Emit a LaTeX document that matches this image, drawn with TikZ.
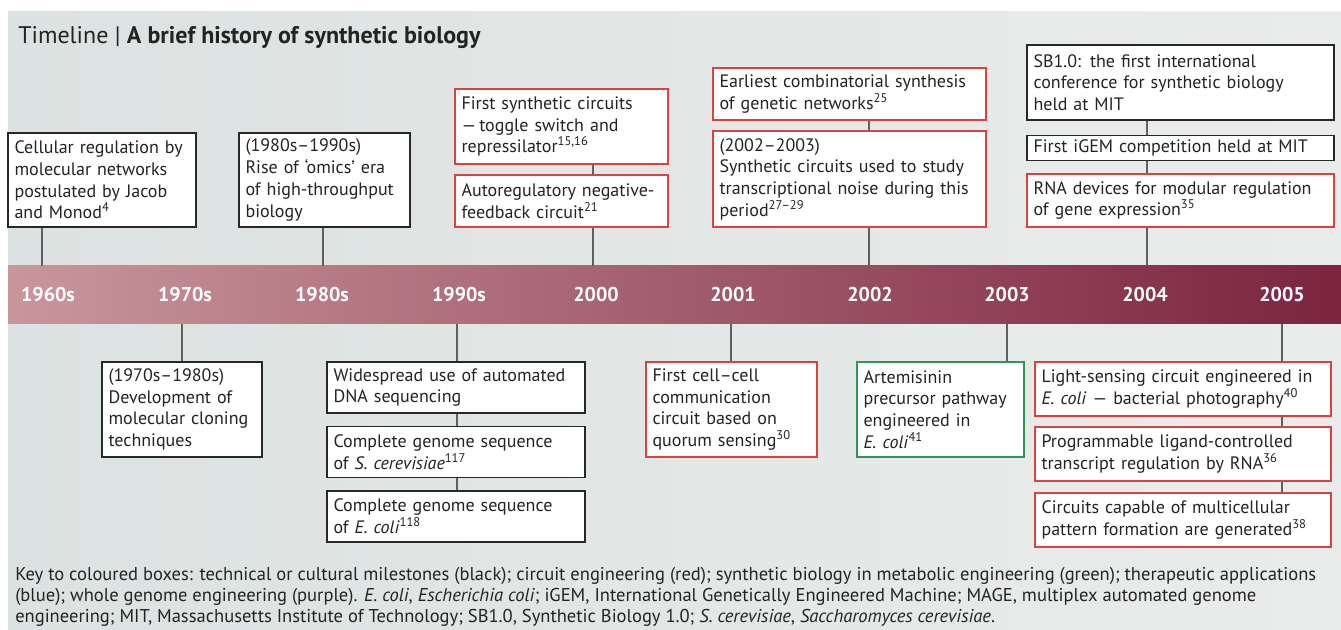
\documentclass[tikz,border=0pt]{standalone}
\usepackage{fontspec}
\setmainfont{PT Sans}
\usepackage{xcolor}
\usepackage{tikz}
\usetikzlibrary{positioning}

\definecolor{tlbg}{RGB}{220,226,225}
\definecolor{tlbgr}{RGB}{233,236,235}
\definecolor{tlbandl}{RGB}{201,150,155}
\definecolor{tlbandr}{RGB}{124,36,64}
\definecolor{tlred}{RGB}{218,66,64}
\definecolor{tlgreen}{RGB}{48,150,86}
\definecolor{tlblack}{RGB}{40,40,40}
\definecolor{tltext}{RGB}{35,35,35}
\definecolor{tlline}{RGB}{95,95,95}
\hyphenpenalty=10000
\exhyphenpenalty=10000

\begin{document}
\begin{tikzpicture}[
x=0.75pt,
y=-0.75pt,
every node/.style={font=\fontsize{13.5}{16.3}\selectfont,text=tltext},
tlbox/.style={rectangle,draw=tlblack,line width=1.1pt,fill=white,align=left,inner xsep=4.9pt,inner ysep=2pt},
tlredbox/.style={tlbox,draw=tlred},
tlgreenbox/.style={tlbox,draw=tlgreen},
tlband/.style={rectangle,draw=none,inner sep=0pt,left color=tlbandl,right color=tlbandr,minimum width=999.75pt,minimum height=43.5pt},
tlyear/.style={font=\fontsize{15}{15}\selectfont\bfseries,text=white,inner sep=0pt},
tltick/.style={draw=tlline,line width=1.1pt}
]
\useasboundingbox (0,0) rectangle (1341,630);
\fill[left color=tlbg,right color=tlbgr] (8,12) rectangle (1341,630);

\node[anchor=west,inner sep=0pt,font=\fontsize{18}{20}\selectfont] (title) at (18,38) {Timeline | \textbf{A brief history of synthetic biology}};

\node[tlband] (band) at (674.5,295) {};
\node[tlyear] (y1960) at (48,295) {1960s};
\node[tlyear] (y1970) at (185,295) {1970s};
\node[tlyear] (y1980) at (322,295) {1980s};
\node[tlyear] (y1990) at (459,295) {1990s};
\node[tlyear] (y2000) at (596,295) {2000};
\node[tlyear] (y2001) at (733,295) {2001};
\node[tlyear] (y2002) at (870,295) {2002};
\node[tlyear] (y2003) at (1007,295) {2003};
\node[tlyear] (y2004) at (1145,295) {2004};
\node[tlyear] (y2005) at (1282,295) {2005};

\node[tlbox,text width=131.2pt,minimum height=70.5pt] (jacob) at (102,180) {Cellular regulation by\\molecular networks\\postulated by Jacob\\and Monod\textsuperscript{4}};
\node[tlbox,text width=118.45pt,minimum height=70.5pt] (omics) at (324.5,180) {(1980s--1990s)\\Rise of `omics' era\\of high-throughput\\biology};
\node[tlredbox,text width=149.95pt,minimum height=56.25pt] (toggle) at (561.5,126.5) {First synthetic circuits\\---\,toggle switch and\\repressilator\textsuperscript{15,16}};
\node[tlredbox,text width=149.95pt,minimum height=39pt] (autoreg) at (561.5,201) {Autoregulatory negative-\\feedback circuit\textsuperscript{21}};
\node[tlredbox,text width=194.95pt,minimum height=39pt] (combin) at (849.5,94) {Earliest combinatorial synthesis\\of genetic networks\textsuperscript{25}};
\node[tlredbox,text width=194.95pt,minimum height=72pt] (noise) at (849.5,179) {(2002--2003)\\Synthetic circuits used to study\\transcriptional noise during this\\period\textsuperscript{27--29}};
\node[tlbox,text width=220.45pt,minimum height=56.25pt] (sbone) at (1180.5,82.5) {SB1.0: the first international\\conference for synthetic biology\\held at MIT};
\node[tlbox,text width=220.45pt,minimum height=18.75pt] (igem) at (1180.5,148) {First iGEM competition held at MIT};
\node[tlredbox,text width=220.45pt,minimum height=39.75pt] (rnadev) at (1180.5,200.5) {RNA devices for modular regulation\\of gene expression\textsuperscript{35}};

\node[tlbox,text width=110.2pt,minimum height=71.25pt] (cloning) at (182,409.5) {(1970s--1980s)\\Development of\\molecular cloning\\techniques};
\node[tlbox,text width=183.7pt,minimum height=38.25pt] (dnaseq) at (456,387.5) {Widespread use of automated\\DNA sequencing};
\node[tlbox,text width=183.7pt,minimum height=38.25pt] (scer) at (456,452) {Complete genome sequence\\of \textit{S. cerevisiae}\textsuperscript{117}};
\node[tlbox,text width=183.7pt,minimum height=38.25pt] (ecoli) at (456,516.5) {Complete genome sequence\\of \textit{E. coli}\textsuperscript{118}};
\node[tlredbox,text width=118.45pt,minimum height=71.25pt] (quorum) at (731.5,409.5) {First cell--cell\\communication\\circuit based on\\quorum sensing\textsuperscript{30}};
\node[tlgreenbox,text width=115.45pt,minimum height=71.25pt] (artem) at (940.5,409.5) {Artemisinin\\precursor pathway\\engineered in\\\textit{E. coli}\textsuperscript{41}};
\node[tlredbox,text width=212.2pt,minimum height=40.5pt] (photo) at (1183,389) {Light-sensing circuit engineered in\\\textit{E. coli} --- bacterial photography\textsuperscript{40}};
\node[tlredbox,text width=212.2pt,minimum height=40.5pt] (ligand) at (1183,454) {Programmable ligand-controlled\\transcript regulation by RNA\textsuperscript{36}};
\node[tlredbox,text width=212.2pt,minimum height=40.5pt] (pattern) at (1183,520) {Circuits capable of multicellular\\pattern formation are generated\textsuperscript{38}};

\node[anchor=north west,inner sep=0pt,align=left,font=\fontsize{13.9}{15.75}\selectfont] (key) at (15,567) {Key to coloured boxes: technical or cultural milestones (black); circuit engineering (red); synthetic biology in metabolic engineering (green); therapeutic applications\\
(blue); whole genome engineering (purple). \textit{E. coli}, \textit{Escherichia coli}; iGEM, International Genetically Engineered Machine; MAGE, multiplex automated genome\\
engineering; MIT, Massachusetts Institute of Technology; SB1.0, Synthetic Biology 1.0; \textit{S. cerevisiae}, \textit{Saccharomyces cerevisiae}.};

\coordinate (xjacob) at (42,0);
\coordinate (xomics) at (323,0);
\coordinate (xtoggle) at (593,0);
\coordinate (xnoise) at (869,0);
\coordinate (xsbone) at (1147,0);
\coordinate (xcloning) at (182,0);
\coordinate (xdnaseq) at (457,0);
\coordinate (xquorum) at (731,0);
\coordinate (xartem) at (1007,0);
\coordinate (xphoto) at (1282,0);

\draw[tltick] (xjacob |- jacob.south) -- (xjacob |- band.north);
\draw[tltick] (xomics |- omics.south) -- (xomics |- band.north);
\draw[tltick] (xtoggle |- toggle.south) -- (xtoggle |- autoreg.north);
\draw[tltick] (xtoggle |- autoreg.south) -- (xtoggle |- band.north);
\draw[tltick] (xnoise |- combin.south) -- (xnoise |- noise.north);
\draw[tltick] (xnoise |- noise.south) -- (xnoise |- band.north);
\draw[tltick] (xsbone |- sbone.south) -- (xsbone |- igem.north);
\draw[tltick] (xsbone |- igem.south) -- (xsbone |- rnadev.north);
\draw[tltick] (xsbone |- rnadev.south) -- (xsbone |- band.north);

\draw[tltick] (xcloning |- band.south) -- (xcloning |- cloning.north);
\draw[tltick] (xdnaseq |- band.south) -- (xdnaseq |- dnaseq.north);
\draw[tltick] (xdnaseq |- dnaseq.south) -- (xdnaseq |- scer.north);
\draw[tltick] (xdnaseq |- scer.south) -- (xdnaseq |- ecoli.north);
\draw[tltick] (xquorum |- band.south) -- (xquorum |- quorum.north);
\draw[tltick] (xartem |- band.south) -- (xartem |- artem.north);
\draw[tltick] (xphoto |- band.south) -- (xphoto |- photo.north);
\draw[tltick] (xphoto |- photo.south) -- (xphoto |- ligand.north);
\draw[tltick] (xphoto |- ligand.south) -- (xphoto |- pattern.north);
\end{tikzpicture}
\end{document}
